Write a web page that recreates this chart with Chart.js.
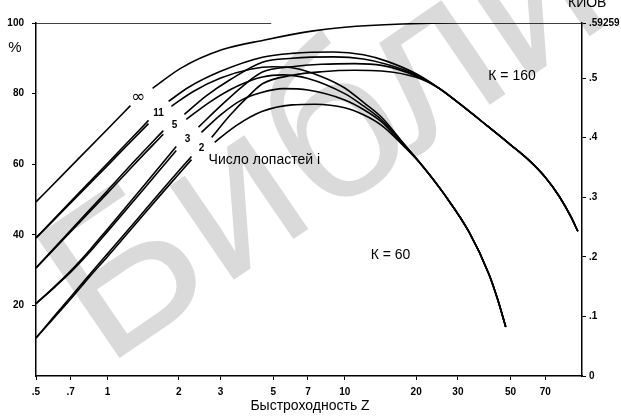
<!DOCTYPE html>
<html lang="ru">
<head>
<meta charset="UTF-8">
<title>КИОВ</title>
<script src="https://cdn.jsdelivr.net/npm/chart.js"></script>
<style>
    body { margin: 0; background: white; }
    #wrap { width: 621px; height: 416px; }
</style>
</head>
<body>
<div id="wrap"><canvas id="kiov" width="621" height="416"></canvas></div>
<script>
    // axis ticks
    const zTicks = [0.5, 0.7, 1, 2, 3, 5, 7, 10, 20, 30, 50, 70];
    const pctTicks = [20, 40, 60, 80, 100];
    const kiovTicks = [0, 0.1, 0.2, 0.3, 0.4, 0.5, 0.59259];
    const BETZ = 0.59259;

    // curves as [Z, %]; null = break in the line where the label sits
    const curveInf = [[0.5,49.3],[0.7,59.3],[1,69.9],[1.25,76.6],null,[1.55,81.5],[2.05,87.3],[3.03,92.4],[4.6,95.2],[7.25,97.7],[10,98.8],[17.4,99.7],[30,100],[100,100]];
    const frameTop = [[0.5,100],[4.9,100]];

    // common ends, where all blade numbers merge
    const tail160 = [[25,81.5],[30,77.5],[40,70.8],[50,65.5],[60,61],[70,56.3],[80,51],[90,45],[96,41]];
    const tail60 = [[21.1,59.8],[26.4,51.3],[33.4,40.8],[40.5,28.9],[44.2,21.5],[47.7,13.9]];

    // K = 160
    const k160i11 = [[0.5,39.1],[0.7,49.4],[1,60.2],[1.2,65.8],[1.49,72.4],null,[1.81,77.8],[2.2,81.8],[3,86.3],[4.5,90.3],[6,91.4],[9,91.8],[12,91],[15,89.2],[20,85.6]];
    const k160i5 = [[0.5,30.6],[0.7,41.3],[1,52.5],[1.3,60.9],[1.72,69.5],null,[2.11,74.1],[2.6,79.3],[3.3,84],[4.5,88.9],[6,90],[9,90.4],[12,89.8],[15,88.3],[20,85.3]];
    const k160i3 = [[0.5,20.5],[0.6,25.4],[0.7,29.8],[0.85,36],[1,41.6],[1.4,53.3],[1.95,65],null,[2.42,70.5],[3,76.5],[3.7,82],[4.5,86.1],[6,87.6],[8,88.3],[11,88.5],[14.3,88],[20,85]];
    const k160i2 = [[0.5,10.8],[0.6,17.1],[0.7,22.4],[0.85,29.1],[1,34.6],[1.3,43.5],[1.7,52.7],[2.26,62.2],null,[2.75,67.6],[3.3,74],[4,79.8],[4.5,82.8],[6,85.2],[8,86.2],[11,86.6],[14.3,86.4],[20,84.6]];

    // K = 60
    const k60i11 = [[0.5,39.1],[0.7,49],[1,59.6],[1.2,65.1],[1.49,71.5],null,[1.86,76.4],[2.3,80.6],[3,84.4],[4,86.9],[5,87.6],[6,87.3],[8,84.8],[10,81.6],[12,77.5],[14.3,73.3],[17.4,66.5]];
    const k60i5 = [[0.5,30.6],[0.7,40.9],[1,51.8],[1.3,60],[1.72,68.5],null,[2.15,72.7],[2.7,77.6],[3.5,82],[4.5,84.7],[5.5,85.3],[7,84.3],[10,80],[12,76.5],[14.3,72.6],[17.4,66.3]];
    const k60i3 = [[0.5,20.5],[0.6,25.2],[0.7,29.4],[0.85,35.4],[1,40.9],[1.4,52.4],[1.95,63.9],null,[2.49,69],[3,74],[3.7,78.3],[4.5,80.4],[5.5,81.4],[7,81],[10,78.2],[12,75.5],[14.3,72],[17.4,66]];
    const k60i2 = [[0.5,10.8],[0.6,16.7],[0.7,21.8],[0.85,28.5],[1,33.8],[1.3,42.7],[1.7,51.8],[2.26,61.3],null,[2.83,66.2],[3.5,71],[4.5,75],[6,76.8],[7.5,77],[10,76],[12,74],[14.3,71],[17.4,65.7]];

    // text placed on the plot, [text, Z, %]
    const bladeLabels = [['∞',1.351,79.0],['11',1.641,74.5],['5',1.918,71.1],['3',2.176,67.1],['2',2.493,64.6]];
    const plotTexts = [['Число лопастей i',2.668,61.2,'left'],['К = 160',50.7,85.0,'center'],['К = 60',15.6,34.3,'center']];

    function toPoints(arr) {
        let lastX = arr[0][0];
        return arr.map(p => {
            if (p === null) return { x: lastX, y: null };
            lastX = p[0];
            return { x: p[0], y: p[1] };
        });
    }

    function line(arr) {
        return {
            data: toPoints(arr),
            borderColor: '#000',
            borderWidth: 1.6,
            pointRadius: 0,
            showLine: true,
            fill: false,
            spanGaps: false,
            cubicInterpolationMode: 'monotone'
        };
    }

    const allCurves = [
        frameTop,
        curveInf,
        k160i11.concat(tail160), k160i5.concat(tail160), k160i3.concat(tail160), k160i2.concat(tail160),
        k60i11.concat(tail60), k60i5.concat(tail60), k60i3.concat(tail60), k60i2.concat(tail60)
    ];

    const tickFont = { family: 'Liberation Sans, Arial, sans-serif', size: 10, weight: 'bold' };

    function fmt(v) {
        if (v === 0) return '0';
        return String(v).replace(/^0\./, '.');
    }

    // watermark under everything, texts on top of the curves
    const textPlugin = {
        id: 'texts',
        beforeDraw(chart) {
            const ctx = chart.ctx;
            ctx.save();
            ctx.fillStyle = '#dadada';
            ctx.font = '215px Liberation Sans, Arial, sans-serif';
            ctx.translate(105, 368);
            ctx.rotate(-0.6);
            ctx.textBaseline = 'alphabetic';
            ctx.fillText('Библиотека', 0, 0);
            ctx.restore();
        },
        afterDatasetsDraw(chart) {
            const ctx = chart.ctx;
            const xs = chart.scales.x, ys = chart.scales.y;
            const area = chart.chartArea;
            ctx.save();
            ctx.fillStyle = '#000';
            ctx.textBaseline = 'middle';
            ctx.textAlign = 'center';
            bladeLabels.forEach(l => {
                ctx.font = l[0] === '∞' ? '17px DejaVu Sans, sans-serif' : 'bold 10px Liberation Sans, Arial, sans-serif';
                ctx.fillText(l[0], xs.getPixelForValue(l[1]), ys.getPixelForValue(l[2]));
            });
            ctx.font = '14px Liberation Sans, Arial, sans-serif';
            plotTexts.forEach(t => {
                ctx.textAlign = t[3];
                ctx.fillText(t[0], xs.getPixelForValue(t[1]), ys.getPixelForValue(t[2]));
            });
            // axis titles
            ctx.textAlign = 'center';
            ctx.font = '15px Liberation Sans, Arial, sans-serif';
            ctx.fillText('%', area.left - 21, area.top + 25);
            ctx.font = '14px Liberation Sans, Arial, sans-serif';
            ctx.fillText('Быстроходность Z', 310, 406);
            ctx.textAlign = 'left';
            ctx.textBaseline = 'alphabetic';
            ctx.fillText('КИОВ', 568, 7);
            ctx.restore();
        }
    };

    new Chart(document.getElementById('kiov'), {
        type: 'scatter',
        data: { datasets: allCurves.map(line) },
        options: {
            responsive: false,
            animation: false,
            layout: { padding: { top: 23, left: 0, right: 0, bottom: 0 } },
            plugins: { legend: { display: false }, tooltip: { enabled: false } },
            scales: {
                x: {
                    type: 'logarithmic',
                    min: 0.5,
                    max: 100,
                    afterBuildTicks: s => { s.ticks = zTicks.map(v => ({ value: v })); },
                    afterFit: s => { s.height = 40; },
                    ticks: { font: tickFont, color: '#000', padding: 6, autoSkip: false, maxRotation: 0, callback: v => fmt(v) },
                    grid: { drawOnChartArea: false, tickLength: 4, color: '#000' },
                    border: { color: '#000', width: 1.5 }
                },
                y: {
                    position: 'left',
                    min: 0,
                    max: 100,
                    afterBuildTicks: s => { s.ticks = pctTicks.map(v => ({ value: v })); },
                    afterFit: s => { s.width = 36; },
                    ticks: { font: tickFont, color: '#000', padding: 8, callback: v => String(v) },
                    grid: { drawOnChartArea: false, tickLength: 4, color: '#000' },
                    border: { color: '#000', width: 1.5 }
                },
                y2: {
                    position: 'right',
                    min: 0,
                    max: BETZ,
                    afterBuildTicks: s => { s.ticks = kiovTicks.map(v => ({ value: v })); },
                    afterFit: s => { s.width = 39; },
                    ticks: { font: tickFont, color: '#000', padding: 3, callback: v => fmt(v) },
                    grid: { drawOnChartArea: false, tickLength: 4, color: '#000' },
                    border: { color: '#000', width: 1.5 }
                }
            }
        },
        plugins: [textPlugin]
    });
</script>
</body>
</html>
